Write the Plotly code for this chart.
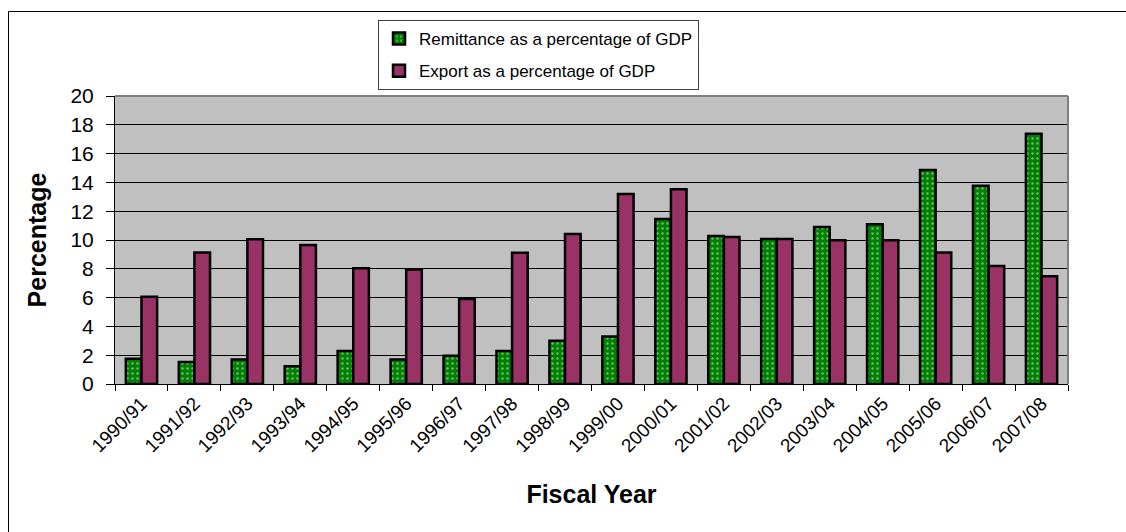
import plotly.graph_objects as go

# Fiscal years and the two series (% of GDP)
fiscal_years = ["1990/91", "1991/92", "1992/93", "1993/94", "1994/95", "1995/96",
                "1996/97", "1997/98", "1998/99", "1999/00", "2000/01", "2001/02",
                "2002/03", "2003/04", "2004/05", "2005/06", "2006/07", "2007/08"]
remittance_pct = [1.76, 1.53, 1.71, 1.23, 2.29, 1.71, 1.97, 2.29, 3.01, 3.29,
                  11.46, 10.28, 10.07, 10.9, 11.09, 14.86, 13.77, 17.38]
export_pct = [6.06, 9.14, 10.05, 9.65, 8.03, 7.96, 5.9, 9.12, 10.42, 13.19,
              13.52, 10.21, 10.07, 9.98, 9.98, 9.14, 8.19, 7.48]
y_ticks = [0, 2, 4, 6, 8, 10, 12, 14, 16, 18, 20]

W, H = 1126, 532
L, R, T, B = 115, 58, 96, 148
pw, ph = W - L - R, H - T - B


def px_x(p):
    return (p - L) / pw


def px_y(p):
    return (H - B - p) / ph


FONT = "Arial, Liberation Sans, sans-serif"

fig = go.Figure()
fig.add_trace(go.Bar(
    x=fiscal_years, y=remittance_pct, name="Remittance as a percentage of GDP",
    legendgroup="r",
    marker=dict(
        color="#008000",
        line=dict(color="black", width=2.5),
        pattern=dict(shape=".", fgcolor="#e0f8e0", bgcolor="#008000",
                     size=5, solidity=0.18, fillmode="overlay"),
    ),
))
fig.add_trace(go.Bar(
    x=fiscal_years, y=export_pct, name="Export as a percentage of GDP",
    legendgroup="e",
    marker=dict(color="#993366", line=dict(color="black", width=2.5)),
))

fig.update_layout(
    width=W, height=H,
    margin=dict(l=L, r=R, t=T, b=B, pad=0),
    paper_bgcolor="white",
    plot_bgcolor="#C0C0C0",
    barmode="group",
    bargap=0.41,
    bargroupgap=0,
    font=dict(family=FONT, color="black"),
    showlegend=True,
    legend=dict(
        x=px_x(378), y=px_y(20), xanchor="left", yanchor="top",
        bgcolor="white", bordercolor="#404040", borderwidth=1,
        font=dict(size=17, family=FONT, color="black"),
        tracegroupgap=7, traceorder="grouped",
        itemwidth=30,
    ),
    xaxis=dict(
        type="category",
        tickangle=-45,
        tickfont=dict(size=19, family=FONT),
        ticks="outside", ticklen=6, tickcolor="black", tickwidth=1,
        tickson="boundaries",
        showline=True, linecolor="black", linewidth=1,
        showgrid=False, zeroline=False,
        title=dict(text="<b>Fiscal Year</b>", font=dict(size=25, family=FONT),
                   standoff=30),
    ),
    yaxis=dict(
        range=[0, 20],
        tickvals=y_ticks,
        tickfont=dict(size=21, family=FONT),
        ticks="outside", ticklen=8, tickcolor="black", tickwidth=1,
        ticklabelstandoff=8,
        showline=True, linecolor="black", linewidth=1,
        showgrid=True, gridcolor="black", gridwidth=1,
        zeroline=False,
        title=dict(text="<b>Percentage</b>", font=dict(size=25, family=FONT),
                   standoff=16),
    ),
    shapes=[
        # grey top and right edges of the plot area
        dict(type="line", xref="paper", yref="paper", x0=0, x1=1, y0=1, y1=1,
             line=dict(color="#808080", width=2), layer="above"),
        dict(type="line", xref="paper", yref="paper", x0=1, x1=1, y0=0, y1=1,
             line=dict(color="#808080", width=2), layer="above"),
        # outer chart frame
        dict(type="rect", xref="paper", yref="paper",
             x0=px_x(8.5), x1=px_x(1140), y0=px_y(11.5), y1=px_y(545),
             line=dict(color="black", width=1), layer="above"),
    ],
)

fig.write_html("out.html")
